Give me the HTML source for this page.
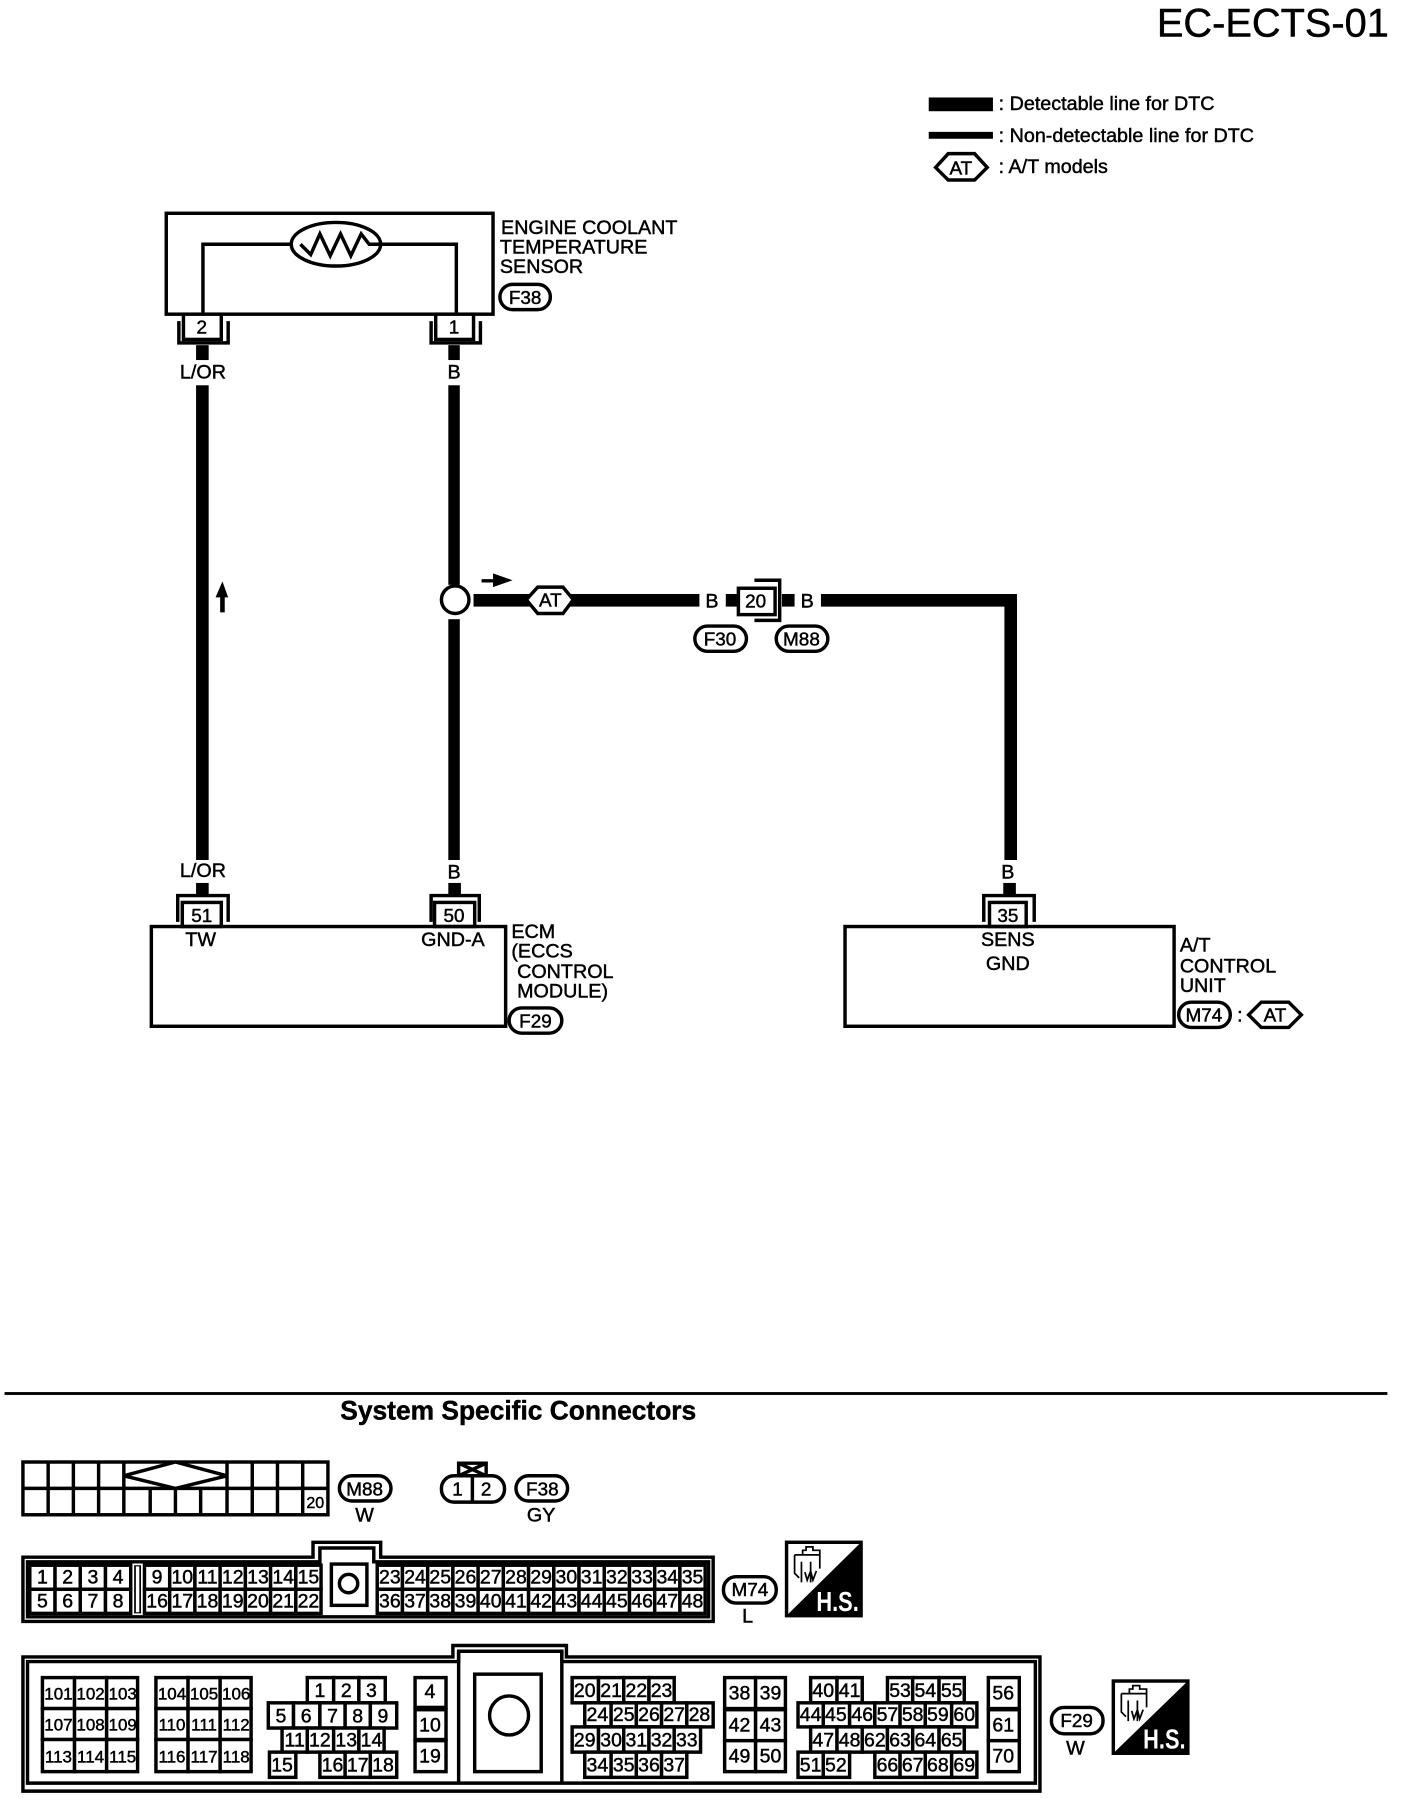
<!DOCTYPE html>
<html><head><meta charset="utf-8"><title>EC-ECTS-01</title>
<style>
html,body{margin:0;padding:0;background:#fff}
svg{display:block}
text{font-family:"Liberation Sans",sans-serif;fill:#000;stroke:#000;stroke-width:.4}
.l{font-size:17.2px}
.m{text-anchor:middle}
.c rect{fill:#fff;stroke:#000;stroke-width:3}
.c text{font-size:17px;text-anchor:middle}
.t text{font-size:14.8px}
.o{fill:none;stroke:#000;stroke-width:3}
.p{fill:#fff;stroke:#000;stroke-width:3}
.k{fill:#000;stroke:none}
.pt{font-size:16.5px;text-anchor:middle}
</style></head><body>
<svg xmlns="http://www.w3.org/2000/svg" width="1408" height="1798" viewBox="0 0 1228 1568" preserveAspectRatio="none">
<rect width="1228" height="1568" fill="#fff"/>
<text x="1009" y="32" font-size="34.7">EC-ECTS-01</text>

<rect class="k" x="810" y="85" width="56" height="12"/>
<text class="l" x="871" y="96">: Detectable line for DTC</text>
<rect class="k" x="810" y="115" width="56" height="6"/>
<text class="l" x="871" y="124">: Non-detectable line for DTC</text>
<path class="p" d="M816 146L827 134H850L861 146L850 157H827Z"/>
<text class="pt" x="838" y="152">AT</text>
<text class="l" x="871" y="151">: A/T models</text>

<!-- sensor -->
<rect class="o" x="145" y="186" width="285" height="88"/>
<path class="o" d="M177 274V213H398V274"/>
<ellipse class="p" cx="293" cy="213" rx="39" ry="19"/>
<path class="o" d="M262 213L271 222L279 204L288 223L297 204L306 223L315 204L322 213H332"/>
<text class="l" x="437" y="204">ENGINE COOLANT</text>
<text class="l" x="436" y="221">TEMPERATURE</text>
<text class="l" x="436" y="238">SENSOR</text>
<rect class="p" x="436" y="248" width="44" height="22" rx="11"/><text class="pt" x="458" y="265">F38</text>

<rect class="p" x="160" y="274" width="33" height="22"/><text class="pt" x="176" y="291">2</text>
<path class="o" d="M156 280V299H199V280"/>
<rect class="p" x="380" y="274" width="33" height="22"/><text class="pt" x="396" y="291">1</text>
<path class="o" d="M376 280V299H419V280"/>
<rect class="k" x="171" y="301" width="11" height="13"/>
<rect class="k" x="391" y="301" width="10" height="13"/>
<text class="l m" x="177" y="330">L/OR</text>
<text class="l m" x="396" y="330">B</text>

<!-- wires -->
<rect class="k" x="171" y="336" width="11" height="414"/>
<rect class="k" x="391" y="336" width="10" height="174"/>
<rect class="k" x="391" y="540" width="10" height="210"/>
<circle class="p" cx="397" cy="523" r="12"/>
<rect class="k" x="413" y="518" width="197" height="11"/>
<rect class="k" x="633" y="518" width="12" height="11"/>
<rect class="k" x="682" y="518" width="11" height="11"/>
<path class="k" d="M716 518H887V750H876V529H716Z"/>
<path class="k" d="M192 534V521H188L194 507L199 521H196V534Z"/>
<path class="k" d="M420 505H430V500L447 506L430 512V508H420Z"/>
<path class="p" d="M459 523L469 512H491L500 523L491 535H469Z"/><text class="pt" x="480" y="529">AT</text>
<text class="l m" x="621" y="530">B</text>
<text class="l m" x="704" y="530">B</text>
<rect class="p" x="644" y="513" width="32" height="23"/><text class="pt" x="659" y="530">20</text>
<path class="o" d="M658 506H680V541H658"/>
<rect class="p" x="606" y="546" width="45" height="22" rx="11"/><text class="pt" x="628" y="563">F30</text>
<rect class="p" x="677" y="546" width="45" height="22" rx="11"/><text class="pt" x="699" y="563" font-size="15">M88</text>

<!-- ECM -->
<text class="l m" x="177" y="765">L/OR</text>
<text class="l m" x="396" y="766">B</text>
<text class="l m" x="879" y="766">B</text>
<rect class="k" x="171" y="770" width="11" height="11"/>
<rect class="k" x="391" y="770" width="11" height="11"/>
<rect class="k" x="875" y="770" width="11" height="11"/>
<path class="o" d="M155 804V781H199V804"/>
<path class="o" d="M376 804V781H418V804"/>
<path class="o" d="M858 804V781H902V804"/>
<rect class="p" x="159" y="787" width="34" height="21"/><text class="pt" x="176" y="804">51</text>
<rect class="p" x="379" y="787" width="35" height="21"/><text class="pt" x="396" y="804">50</text>
<rect class="p" x="863" y="787" width="32" height="21"/><text class="pt" x="879" y="804">35</text>
<rect class="o" x="132" y="808" width="309" height="87"/>
<rect class="o" x="737" y="808" width="287" height="87"/>
<text class="l m" x="175" y="825">TW</text>
<text class="l m" x="395" y="825">GND-A</text>
<text class="l m" x="879" y="825">SENS</text>
<text class="l m" x="879" y="846">GND</text>
<text class="l" x="446" y="818">ECM</text>
<text class="l" x="446" y="835">(ECCS</text>
<text class="l" x="451" y="853">CONTROL</text>
<text class="l" x="451" y="870">MODULE)</text>
<rect class="p" x="444" y="879" width="46" height="22" rx="11"/><text class="pt" x="467" y="896">F29</text>
<text class="l" x="1029" y="830">A/T</text>
<text class="l" x="1029" y="848">CONTROL</text>
<text class="l" x="1029" y="865">UNIT</text>
<rect class="p" x="1028" y="874" width="45" height="22" rx="11"/><text class="pt" x="1050" y="891" font-size="15">M74</text>
<text class="l" x="1079" y="891">:</text>
<path class="p" d="M1089 885L1100 874H1124L1135 885L1124 896H1100Z"/><text class="pt" x="1112" y="891">AT</text>

<!-- section -->
<rect class="k" x="4" y="1214" width="1206" height="2.5"/>
<text x="452" y="1238" font-size="23" font-weight="bold" text-anchor="middle">System Specific Connectors</text>

<!-- M88 connector -->
<rect class="o" x="20" y="1275" width="266" height="46"/>
<path class="o" d="M20 1298H286M42 1275V1321M64 1275V1321M86 1275V1321M108 1275V1321M198 1275V1321M220 1275V1321M242 1275V1321M264 1275V1321M131 1298V1321M153 1298V1321M175 1298V1321"/>
<path class="p" d="M108 1287L153 1275L198 1287L153 1298Z"/>
<text class="m" x="275" y="1315" font-size="14">20</text>
<rect class="p" x="296" y="1287" width="45" height="22" rx="11"/><text class="pt" x="318" y="1304" font-size="15">M88</text>
<text class="l m" x="318" y="1327">W</text>
<path class="o" d="M400 1287V1276H424V1287M400 1276L424 1287M424 1276L400 1287"/>
<rect class="p" x="385" y="1287" width="55" height="23" rx="11"/>
<path class="o" d="M412 1287V1310"/>
<text class="pt" x="399" y="1304">1</text><text class="pt" x="424" y="1304">2</text>
<rect class="p" x="450" y="1287" width="45" height="22" rx="11"/><text class="pt" x="473" y="1304">F38</text>
<text class="l m" x="472" y="1327">GY</text>

<!-- M74 connector -->
<path class="o" d="M20 1358H273V1345H332V1358H622V1414H20Z"/>
<path class="o" d="M24 1362H279V1350H326V1362H618V1410H24Z"/>
<g class="c">
<rect x="26" y="1365" width="22" height="21"/><text x="37" y="1381">1</text>
<rect x="48" y="1365" width="22" height="21"/><text x="59" y="1381">2</text>
<rect x="70" y="1365" width="22" height="21"/><text x="81" y="1381">3</text>
<rect x="92" y="1365" width="22" height="21"/><text x="103" y="1381">4</text>
<rect x="26" y="1386" width="22" height="21"/><text x="37" y="1402">5</text>
<rect x="48" y="1386" width="22" height="21"/><text x="59" y="1402">6</text>
<rect x="70" y="1386" width="22" height="21"/><text x="81" y="1402">7</text>
<rect x="92" y="1386" width="22" height="21"/><text x="103" y="1402">8</text>
<rect x="126" y="1365" width="22" height="21"/><text x="137" y="1381">9</text>
<rect x="148" y="1365" width="22" height="21"/><text x="159" y="1381">10</text>
<rect x="170" y="1365" width="22" height="21"/><text x="181" y="1381">11</text>
<rect x="192" y="1365" width="22" height="21"/><text x="203" y="1381">12</text>
<rect x="214" y="1365" width="22" height="21"/><text x="225" y="1381">13</text>
<rect x="236" y="1365" width="22" height="21"/><text x="247" y="1381">14</text>
<rect x="258" y="1365" width="22" height="21"/><text x="269" y="1381">15</text>
<rect x="126" y="1386" width="22" height="21"/><text x="137" y="1402">16</text>
<rect x="148" y="1386" width="22" height="21"/><text x="159" y="1402">17</text>
<rect x="170" y="1386" width="22" height="21"/><text x="181" y="1402">18</text>
<rect x="192" y="1386" width="22" height="21"/><text x="203" y="1402">19</text>
<rect x="214" y="1386" width="22" height="21"/><text x="225" y="1402">20</text>
<rect x="236" y="1386" width="22" height="21"/><text x="247" y="1402">21</text>
<rect x="258" y="1386" width="22" height="21"/><text x="269" y="1402">22</text>
<rect x="329" y="1365" width="22" height="21"/><text x="340" y="1381">23</text>
<rect x="351" y="1365" width="22" height="21"/><text x="362" y="1381">24</text>
<rect x="373" y="1365" width="22" height="21"/><text x="384" y="1381">25</text>
<rect x="395" y="1365" width="22" height="21"/><text x="406" y="1381">26</text>
<rect x="417" y="1365" width="22" height="21"/><text x="428" y="1381">27</text>
<rect x="439" y="1365" width="22" height="21"/><text x="450" y="1381">28</text>
<rect x="461" y="1365" width="22" height="21"/><text x="472" y="1381">29</text>
<rect x="483" y="1365" width="22" height="21"/><text x="494" y="1381">30</text>
<rect x="505" y="1365" width="22" height="21"/><text x="516" y="1381">31</text>
<rect x="527" y="1365" width="22" height="21"/><text x="538" y="1381">32</text>
<rect x="549" y="1365" width="22" height="21"/><text x="560" y="1381">33</text>
<rect x="571" y="1365" width="22" height="21"/><text x="582" y="1381">34</text>
<rect x="593" y="1365" width="22" height="21"/><text x="604" y="1381">35</text>
<rect x="329" y="1386" width="22" height="21"/><text x="340" y="1402">36</text>
<rect x="351" y="1386" width="22" height="21"/><text x="362" y="1402">37</text>
<rect x="373" y="1386" width="22" height="21"/><text x="384" y="1402">38</text>
<rect x="395" y="1386" width="22" height="21"/><text x="406" y="1402">39</text>
<rect x="417" y="1386" width="22" height="21"/><text x="428" y="1402">40</text>
<rect x="439" y="1386" width="22" height="21"/><text x="450" y="1402">41</text>
<rect x="461" y="1386" width="22" height="21"/><text x="472" y="1402">42</text>
<rect x="483" y="1386" width="22" height="21"/><text x="494" y="1402">43</text>
<rect x="505" y="1386" width="22" height="21"/><text x="516" y="1402">44</text>
<rect x="527" y="1386" width="22" height="21"/><text x="538" y="1402">45</text>
<rect x="549" y="1386" width="22" height="21"/><text x="560" y="1402">46</text>
<rect x="571" y="1386" width="22" height="21"/><text x="582" y="1402">47</text>
<rect x="593" y="1386" width="22" height="21"/><text x="604" y="1402">48</text>
</g>
<rect class="k" x="117" y="1365" width="6" height="42"/>
<rect x="118.500" y="1366" width="3" height="40" fill="#fff"/>
<rect class="o" x="289" y="1364" width="31" height="36"/>
<circle class="o" cx="304" cy="1381" r="8"/>
<rect class="p" x="631" y="1375" width="46" height="23" rx="11"/><text class="pt" x="654" y="1392" font-size="15">M74</text>
<text class="l m" x="652" y="1415">L</text>
<rect class="p" x="686" y="1345" width="65" height="64"/>
<path class="k" d="M751 1345V1409H686Z"/>
<path class="o" style="stroke-width:1.5" d="M693 1356H715V1368M693 1356V1372L697 1376M700 1356V1352H703V1349H709V1352H715V1356M699 1362V1380M707 1362V1380M702 1371L704 1378L707 1370L709 1378L712 1370"/>
<text x="712" y="1405" font-size="24" font-weight="bold" textLength="37" lengthAdjust="spacingAndGlyphs" style="fill:#fff;stroke:none">H.S.</text>

<!-- F29 connector -->
<path class="o" d="M20 1445H395V1435H494V1445H907V1562H20Z"/>
<path class="o" d="M24 1449H400V1440H490V1449H903V1555H24Z"/>
<path class="o" d="M400 1440V1555M490 1440V1555"/>
<rect class="o" x="414" y="1460" width="58" height="85"/>
<circle class="o" cx="444" cy="1496" r="17"/>
<g class="c t">
<rect x="37" y="1463" width="28" height="27"/><text x="51" y="1482">101</text>
<rect x="65" y="1463" width="28" height="27"/><text x="79" y="1482">102</text>
<rect x="93" y="1463" width="27" height="27"/><text x="107" y="1482">103</text>
<rect x="37" y="1490" width="28" height="27"/><text x="51" y="1509">107</text>
<rect x="65" y="1490" width="28" height="27"/><text x="79" y="1509">108</text>
<rect x="93" y="1490" width="27" height="27"/><text x="107" y="1509">109</text>
<rect x="37" y="1517" width="28" height="28"/><text x="51" y="1537">113</text>
<rect x="65" y="1517" width="28" height="28"/><text x="79" y="1537">114</text>
<rect x="93" y="1517" width="27" height="28"/><text x="107" y="1537">115</text>
<rect x="136" y="1463" width="28" height="27"/><text x="150" y="1482">104</text>
<rect x="164" y="1463" width="28" height="27"/><text x="178" y="1482">105</text>
<rect x="192" y="1463" width="27" height="27"/><text x="206" y="1482">106</text>
<rect x="136" y="1490" width="28" height="27"/><text x="150" y="1509">110</text>
<rect x="164" y="1490" width="28" height="27"/><text x="178" y="1509">111</text>
<rect x="192" y="1490" width="27" height="27"/><text x="206" y="1509">112</text>
<rect x="136" y="1517" width="28" height="28"/><text x="150" y="1537">116</text>
<rect x="164" y="1517" width="28" height="28"/><text x="178" y="1537">117</text>
<rect x="192" y="1517" width="27" height="28"/><text x="206" y="1537">118</text>
</g>
<g class="c">
<rect x="268" y="1463" width="23" height="22"/><text x="279" y="1480">1</text>
<rect x="291" y="1463" width="22" height="22"/><text x="302" y="1480">2</text>
<rect x="313" y="1463" width="23" height="22"/><text x="324" y="1480">3</text>
<rect x="234" y="1485" width="22" height="22"/><text x="245" y="1502">5</text>
<rect x="256" y="1485" width="23" height="22"/><text x="267" y="1502">6</text>
<rect x="279" y="1485" width="22" height="22"/><text x="290" y="1502">7</text>
<rect x="301" y="1485" width="22" height="22"/><text x="312" y="1502">8</text>
<rect x="323" y="1485" width="23" height="22"/><text x="334" y="1502">9</text>
<rect x="246" y="1507" width="22" height="21"/><text x="257" y="1523">11</text>
<rect x="268" y="1507" width="23" height="21"/><text x="279" y="1523">12</text>
<rect x="291" y="1507" width="22" height="21"/><text x="302" y="1523">13</text>
<rect x="313" y="1507" width="22" height="21"/><text x="324" y="1523">14</text>
<rect x="235" y="1528" width="23" height="22"/><text x="246" y="1545">15</text>
<rect x="279" y="1528" width="22" height="22"/><text x="290" y="1545">16</text>
<rect x="301" y="1528" width="22" height="22"/><text x="312" y="1545">17</text>
<rect x="323" y="1528" width="23" height="22"/><text x="334" y="1545">18</text>
<rect x="362" y="1463" width="27" height="26"/><text x="375" y="1481">4</text>
<rect x="362" y="1491" width="27" height="26"/><text x="375" y="1510">10</text>
<rect x="362" y="1518" width="27" height="27"/><text x="375" y="1537">19</text>
<rect x="499" y="1463" width="23" height="22"/><text x="510" y="1480">20</text>
<rect x="522" y="1463" width="22" height="22"/><text x="533" y="1480">21</text>
<rect x="544" y="1463" width="22" height="22"/><text x="555" y="1480">22</text>
<rect x="566" y="1463" width="22" height="22"/><text x="577" y="1480">23</text>
<rect x="510" y="1485" width="23" height="21"/><text x="521" y="1501">24</text>
<rect x="533" y="1485" width="22" height="21"/><text x="544" y="1501">25</text>
<rect x="555" y="1485" width="22" height="21"/><text x="566" y="1501">26</text>
<rect x="577" y="1485" width="22" height="21"/><text x="588" y="1501">27</text>
<rect x="599" y="1485" width="23" height="21"/><text x="610" y="1501">28</text>
<rect x="499" y="1506" width="23" height="22"/><text x="510" y="1523">29</text>
<rect x="522" y="1506" width="22" height="22"/><text x="533" y="1523">30</text>
<rect x="544" y="1506" width="22" height="22"/><text x="555" y="1523">31</text>
<rect x="566" y="1506" width="22" height="22"/><text x="577" y="1523">32</text>
<rect x="588" y="1506" width="23" height="22"/><text x="599" y="1523">33</text>
<rect x="510" y="1528" width="23" height="22"/><text x="521" y="1545">34</text>
<rect x="533" y="1528" width="22" height="22"/><text x="544" y="1545">35</text>
<rect x="555" y="1528" width="22" height="22"/><text x="566" y="1545">36</text>
<rect x="577" y="1528" width="22" height="22"/><text x="588" y="1545">37</text>
<rect x="632" y="1463" width="27" height="27"/><text x="645" y="1482">38</text>
<rect x="659" y="1463" width="26" height="27"/><text x="672" y="1482">39</text>
<rect x="632" y="1491" width="27" height="27"/><text x="645" y="1510">42</text>
<rect x="659" y="1491" width="26" height="27"/><text x="672" y="1510">43</text>
<rect x="632" y="1518" width="27" height="27"/><text x="645" y="1537">49</text>
<rect x="659" y="1518" width="26" height="27"/><text x="672" y="1537">50</text>
<rect x="707" y="1463" width="23" height="22"/><text x="718" y="1480">40</text>
<rect x="730" y="1463" width="22" height="22"/><text x="741" y="1480">41</text>
<rect x="774" y="1463" width="22" height="22"/><text x="785" y="1480">53</text>
<rect x="796" y="1463" width="23" height="22"/><text x="807" y="1480">54</text>
<rect x="819" y="1463" width="22" height="22"/><text x="830" y="1480">55</text>
<rect x="696" y="1485" width="22" height="21"/><text x="707" y="1501">44</text>
<rect x="718" y="1485" width="23" height="21"/><text x="729" y="1501">45</text>
<rect x="741" y="1485" width="22" height="21"/><text x="752" y="1501">46</text>
<rect x="763" y="1485" width="22" height="21"/><text x="774" y="1501">57</text>
<rect x="785" y="1485" width="22" height="21"/><text x="796" y="1501">58</text>
<rect x="807" y="1485" width="23" height="21"/><text x="818" y="1501">59</text>
<rect x="830" y="1485" width="22" height="21"/><text x="841" y="1501">60</text>
<rect x="707" y="1506" width="23" height="22"/><text x="718" y="1523">47</text>
<rect x="730" y="1506" width="22" height="22"/><text x="741" y="1523">48</text>
<rect x="752" y="1506" width="22" height="22"/><text x="763" y="1523">62</text>
<rect x="774" y="1506" width="22" height="22"/><text x="785" y="1523">63</text>
<rect x="796" y="1506" width="23" height="22"/><text x="807" y="1523">64</text>
<rect x="819" y="1506" width="22" height="22"/><text x="830" y="1523">65</text>
<rect x="696" y="1528" width="22" height="22"/><text x="707" y="1545">51</text>
<rect x="718" y="1528" width="23" height="22"/><text x="729" y="1545">52</text>
<rect x="763" y="1528" width="22" height="22"/><text x="774" y="1545">66</text>
<rect x="785" y="1528" width="22" height="22"/><text x="796" y="1545">67</text>
<rect x="807" y="1528" width="23" height="22"/><text x="818" y="1545">68</text>
<rect x="830" y="1528" width="22" height="22"/><text x="841" y="1545">69</text>
<rect x="862" y="1463" width="27" height="27"/><text x="875" y="1482">56</text>
<rect x="862" y="1491" width="27" height="27"/><text x="875" y="1510">61</text>
<rect x="862" y="1518" width="27" height="27"/><text x="875" y="1537">70</text>
</g>
<rect class="p" x="917" y="1489" width="45" height="23" rx="11"/><text class="pt" x="939" y="1506">F29</text>
<text class="l m" x="938" y="1530">W</text>
<rect class="p" x="971" y="1466" width="65" height="63"/>
<path class="k" d="M1036 1466V1529H971Z"/>
<path class="o" style="stroke-width:1.5" d="M978 1477H1000V1489M978 1477V1493L982 1497M985 1477V1473H988V1470H994V1473H1000V1477M984 1483V1501M992 1483V1501M987 1492L989 1499L992 1491L994 1499L997 1491"/>
<text x="997" y="1525" font-size="24" font-weight="bold" textLength="37" lengthAdjust="spacingAndGlyphs" style="fill:#fff;stroke:none">H.S.</text>
</svg>
</body></html>
